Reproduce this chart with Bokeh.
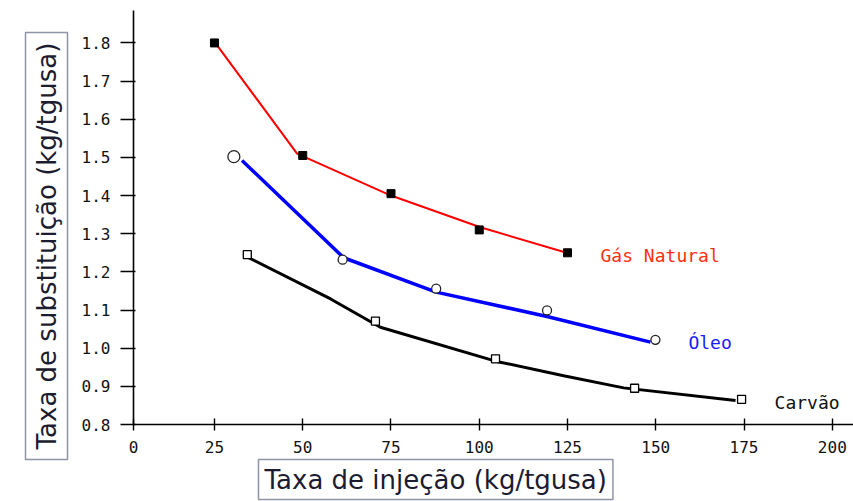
from bokeh.plotting import figure
from bokeh.models import FixedTicker, Label, Range1d, Title
from bokeh.embed import file_html
from bokeh.resources import INLINE

# ---- data ----
gas_x = [25, 50, 75, 100, 125]
gas_y = [1.80, 1.505, 1.405, 1.31, 1.25]
gas_line_x = [25.8, 48.4, 75, 100.3, 124]
gas_line_y = [1.793, 1.51, 1.40, 1.317, 1.252]

oleo_x = [30.5, 61.3, 87.8, 119.2, 149.9]
oleo_y = [1.502, 1.232, 1.156, 1.099, 1.022]
oleo_line_x = [32.8, 61.6, 87.8, 119.2, 148.5]
oleo_line_y = [1.492, 1.237, 1.147, 1.083, 1.016]

carvao_x = [34.3, 70.6, 104.6, 144, 174.3]
carvao_y = [1.245, 1.071, 0.972, 0.895, 0.866]
carvao_line_x = [34.7, 57.9, 72, 104.6, 123.9, 140.9, 172.6]
carvao_line_y = [1.237, 1.129, 1.055, 0.966, 0.928, 0.896, 0.863]

series_names = ["Gás Natural", "Óleo", "Carvão"]
x_ticks = [0, 25, 50, 75, 100, 125, 150, 175, 200]
y_ticks = [0.8, 0.9, 1.0, 1.1, 1.2, 1.3, 1.4, 1.5, 1.6, 1.7, 1.8]
x_title = "Taxa de injeção (kg/tgusa)"
y_title = "Taxa de substituição (kg/tgusa)"

X_START = 2.07
X_END = 206
Y_START = 0.8
Y_END = 1.885

p = figure(width=853, height=501, output_backend="svg", toolbar_location=None,
           x_range=Range1d(X_START, X_END), y_range=Range1d(Y_START, Y_END),
           min_border_left=133, min_border_right=0, min_border_top=10,
           min_border_bottom=77)
p.outline_line_color = None
p.grid.visible = False
p.background_fill_color = "white"
p.border_fill_color = "white"

tick_font = "DejaVu Sans Mono"
xt = [X_START] + x_ticks[1:]
p.xaxis.ticker = FixedTicker(ticks=xt)
p.xaxis.major_label_overrides = {X_START: "0"}
p.yaxis.ticker = FixedTicker(ticks=y_ticks)
p.yaxis.major_label_overrides = {t: f"{t:.1f}" for t in y_ticks}
for ax in (p.xaxis[0], p.yaxis[0]):
    ax.axis_line_color = "black"
    ax.axis_line_width = 1.6
    ax.major_tick_line_color = "black"
    ax.major_tick_line_width = 1.4
    ax.minor_tick_line_color = None
    ax.major_label_text_font = tick_font
    ax.major_label_text_font_size = "16px"
    ax.major_label_text_color = "#111111"
p.xaxis.major_tick_in = 6
p.xaxis.major_tick_out = 6
p.xaxis.major_label_standoff = 10
p.yaxis.major_tick_in = 2
p.yaxis.major_tick_out = 13
p.yaxis.major_label_standoff = 10

# axis titles as boxed side-panel titles
def boxed_title(text, side, offset, standoff, pad):
    t = Title(text=text, align="left", offset=offset, standoff=standoff,
              text_font="DejaVu Sans", text_font_size="26px",
              text_font_style="normal", text_color="#1c1c30",
              background_fill_color="white", border_line_color="#8f94a6",
              border_line_width=1.5)
    try:
        t.padding = pad
    except Exception:
        try:
            t.padding = 5
        except Exception:
            pass
    p.add_layout(t, side)

boxed_title(y_title, "left", -35, 22, (10, 6))
boxed_title(x_title, "below", 125, 4, (6, 5))

# lines
p.line(gas_line_x, gas_line_y, line_color="#ff0000", line_width=2)
p.line(oleo_line_x, oleo_line_y, line_color="#0000ff", line_width=3.5)
p.line(carvao_line_x, carvao_line_y, line_color="black", line_width=3)

# markers
p.scatter(gas_x, gas_y, marker="square", size=8, fill_color="black", line_color="black")
p.scatter(oleo_x[:1], oleo_y[:1], marker="circle", size=12, fill_color="white",
          line_color="#222222", line_width=1.3)
p.scatter(oleo_x[1:], oleo_y[1:], marker="circle", size=9, fill_color="white",
          line_color="#222222", line_width=1.3)
p.scatter(carvao_x, carvao_y, marker="square", size=8, fill_color="white",
          line_color="black", line_width=1.3)

# series labels next to last points
name_colors = ["#ff3010", "#1a1aff", "#111111"]
ends = [(gas_x[-1], gas_y[-1]), (oleo_x[-1], oleo_y[-1]), (carvao_x[-1], carvao_y[-1])]
for name, col, (ex, ey) in zip(series_names, name_colors, ends):
    p.add_layout(Label(x=ex, y=ey, text=name, x_offset=33, y_offset=-3,
                       text_color=col, text_font="DejaVu Sans Mono",
                       text_font_size="18px", text_align="left",
                       text_baseline="middle"))

open("out.html", "w").write(file_html(p, INLINE))
